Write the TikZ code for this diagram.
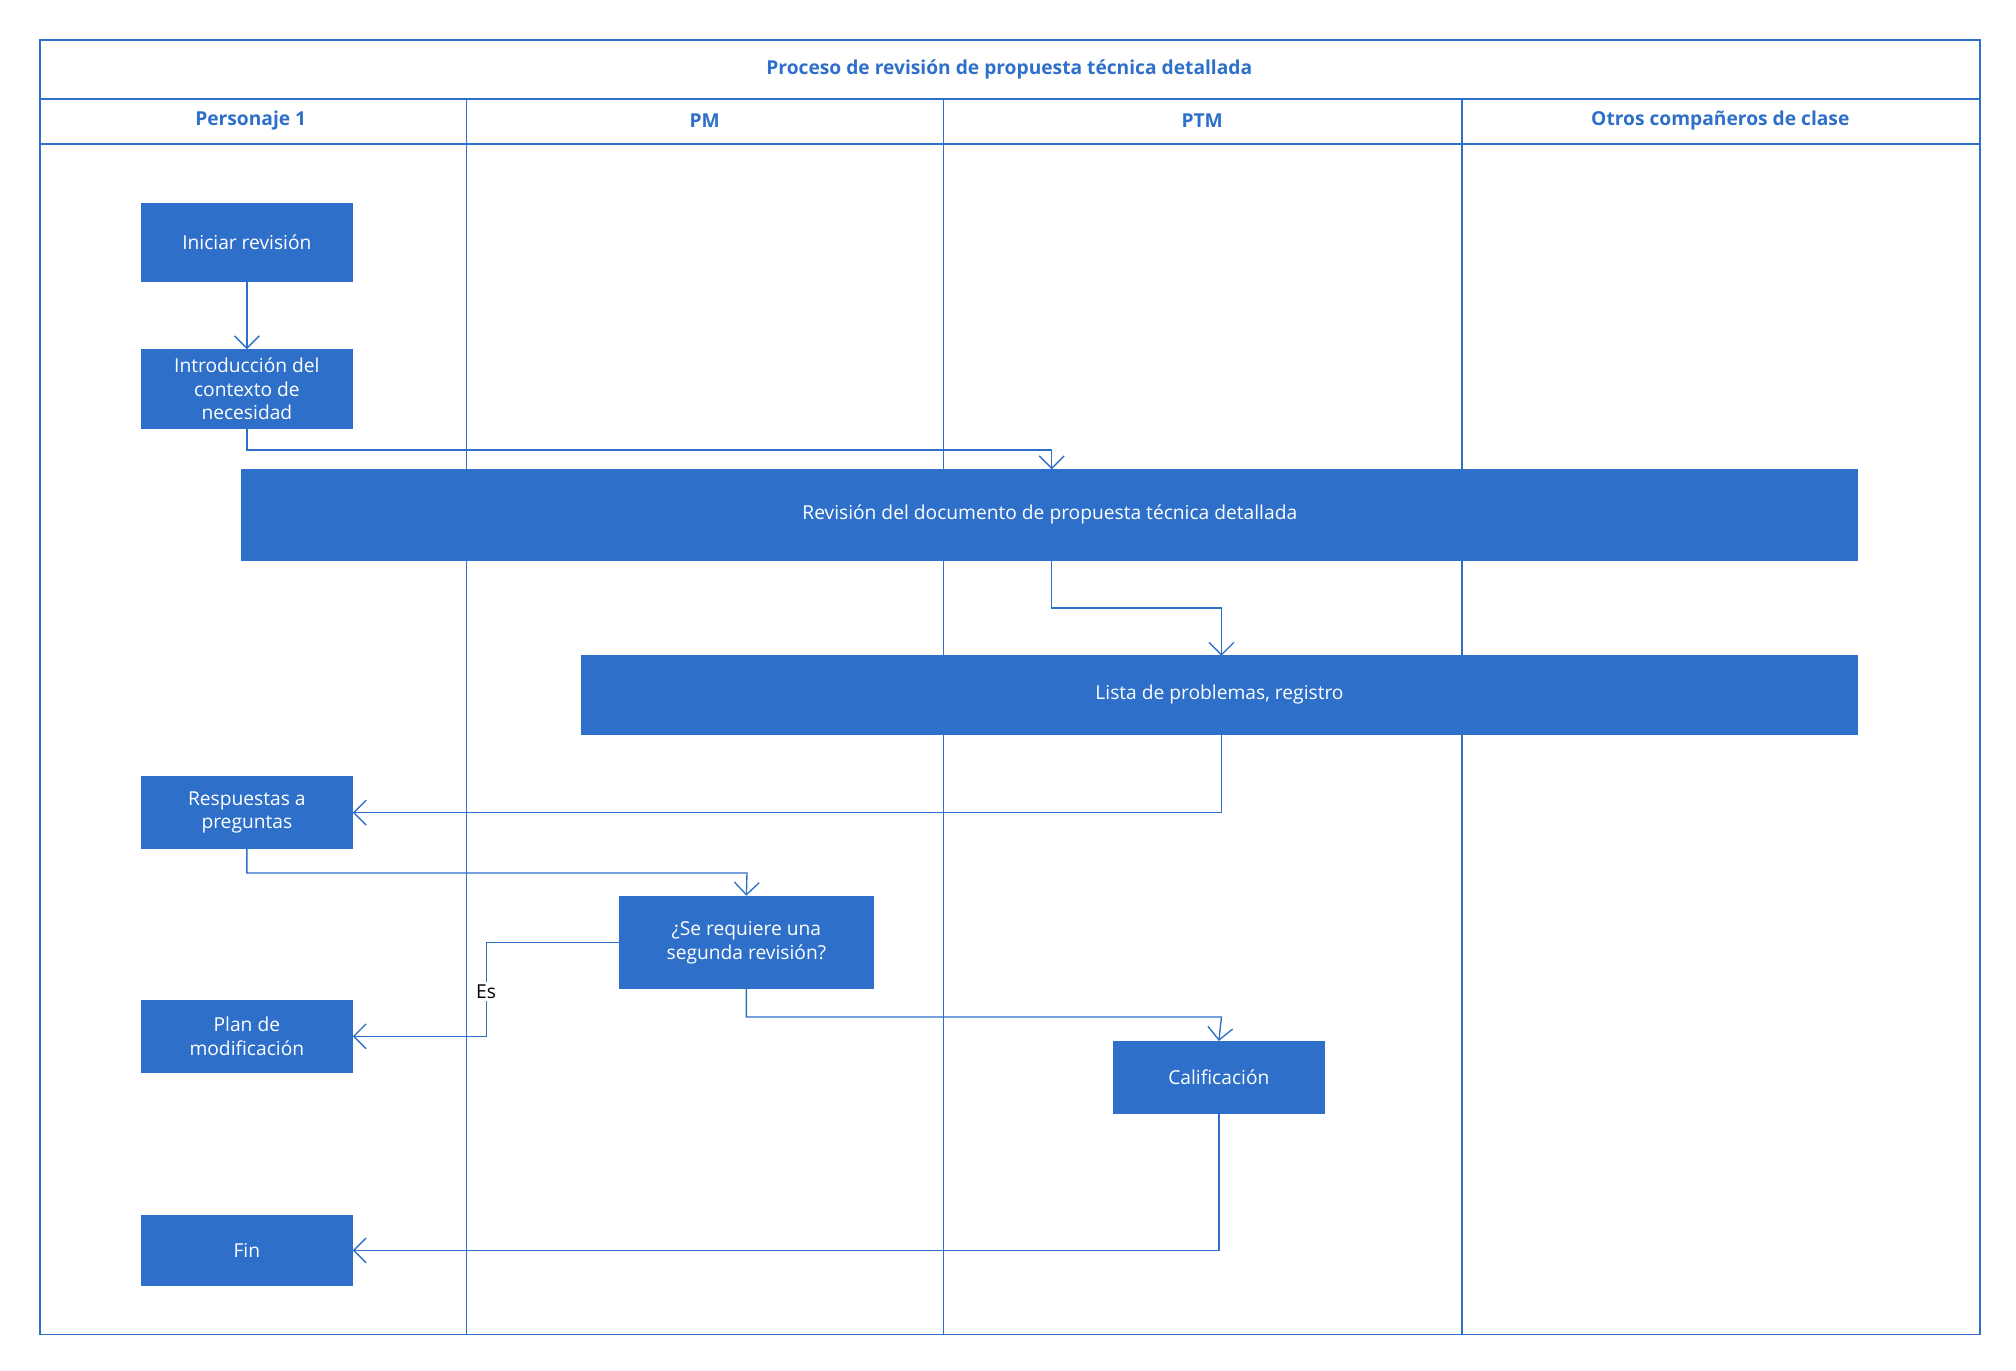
\documentclass[tikz,border=0pt]{standalone}
\usepackage{fontspec}
\setmainfont{Open Sans}
\usetikzlibrary{arrows.meta}
\definecolor{bl}{HTML}{2E6FC9}
\begin{document}
\begin{tikzpicture}[x=0.02cm,y=-0.02cm,
  box/.style={fill=bl,draw=bl,text=white,align=center,font=\fontsize{8.5}{10.5}\selectfont,inner sep=2pt},
  con/.style={draw=bl,line width=0.6pt,-{Straight Barb[length=5.5pt,width=11pt]}},
  hd/.style={text=bl,font=\bfseries\fontsize{8.5}{10}\selectfont}]
\useasboundingbox (0,0) rectangle (1568,1066);
\draw[bl,line width=0.6pt] (31,31) rectangle (1540,1038);
\draw[bl,line width=0.6pt] (31,77) -- (1540,77) (31,112) -- (1540,112);
\foreach \x in {363,734,1137} \draw[bl,line width=0.6pt] (\x,77) -- (\x,1038);
\node[hd] (t) at (785,54) {Proceso de revisión de propuesta técnica detallada};
\node[hd] (h1) at (195,94) {Personaje 1};
\node[hd] (h2) at (548,94) {PM};
\node[hd] (h3) at (935,94) {PTM};
\node[hd] (h4) at (1338,94) {Otros compañeros de clase};
\newcommand\bx[6]{\node[box,minimum width={(#4-#2)*0.02cm},minimum height={(#5-#3)*0.02cm}] (#1) at ({(#2+#4)/2},{(#3+#5)/2}) {#6};}
\bx{a}{110}{158}{274}{219}{Iniciar revisión}
\bx{b}{110}{272}{274}{333}{Introducción del\\contexto de\\necesidad}
\bx{c}{188}{365}{1445}{436}{Revisión del documento de propuesta técnica detallada}
\bx{d}{452}{510}{1445}{571}{Lista de problemas, registro}
\bx{e}{110}{604}{274}{660}{Respuestas a\\preguntas}
\bx{f}{482}{697}{679}{769}{¿Se requiere una\\segunda revisión?}
\bx{g}{110}{778}{274}{834}{Plan de\\modificación}
\bx{h}{866}{810}{1030}{866}{Calificación}
\bx{i}{110}{945}{274}{1000}{Fin}
\coordinate (gk) at ([xshift=2.08cm]g.east);
\draw[con] (a) -- (b);
\draw[con] (b.south) |- (818,350) -- (818,365);
\draw[con] (818,436) |- (950,473) -- (950,510);
\draw[con] (950,571) |- (e.east);
\draw[con] (e.south) |- (581,679) -- (f.north);
\draw[con] (f.west) -| (gk) -- (g.east);
\node[fill=white,inner sep=1pt,font=\fontsize{8.5}{10}\selectfont] (es) at (378,771) {Es};
\draw[con] (f.south) |- (950,791) -- (h.north);
\draw[con] (h.south) |- (i.east);
\end{tikzpicture}
\end{document}
